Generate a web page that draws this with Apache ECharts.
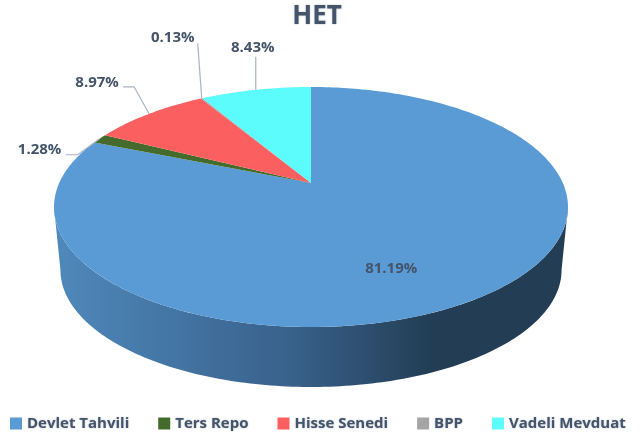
<!DOCTYPE html>
<html><head><meta charset="utf-8">
<style>html,body{margin:0;padding:0;background:#fff}#c{width:643px;height:437px}</style>
<script src="https://cdn.jsdelivr.net/npm/echarts@6/dist/echarts.min.js"></script>
</head><body><div id="c"></div>
<script>
const chartTitle = 'HET';
const categories = ['Devlet Tahvili', 'Ters Repo', 'Hisse Senedi', 'BPP', 'Vadeli Mevduat'];
const shares = [81.19, 1.28, 8.97, 0.13, 8.43];
const colors = ['#5b9bd5', '#456b2c', '#fb5f5f', '#a5a5a5', '#5cfcfc'];

// Perspective view of the pie: apex, rim size and extrusion
const view = {cx: 311, cy: 183, rimX: 251.8, rimY: 115.2, k: 0.2, lowerScale: 0.975, lowerDrop: 63.6};
// Label placement relative to the slice's rim midpoint, with leader line elbows
const labelLayout = [
  {dx: -88, dy: -29, line: null},
  {dx: -60, dy: 11, line: [[-22, 16], [-34, 16]]},
  {dx: -52, dy: -31, line: [[-15, -27], [-26, -27]]},
  {dx: -29, dy: -61, line: [[-4, -55]]},
  {dx: -3, dy: -42, line: [[0, -33]]}
];
const textColor = '#44546a';
const textFont = 'bold 15px "Open Sans"';

function project(angle, lower) {
  const s = Math.sin(angle), c = Math.cos(angle), w = 1 + view.k * c;
  const x = view.rimX * s / w, y = -view.rimY * c / w;
  const m = lower ? view.lowerScale : 1, d = lower ? view.lowerDrop : 0;
  return [view.cx + m * x, view.cy + d + m * y];
}
function rim(a0, a1, lower) {
  const n = Math.max(2, Math.ceil(Math.abs(a1 - a0) / (Math.PI / 180)));
  const pts = [];
  for (let i = 0; i <= n; i++) pts.push(project(a0 + (a1 - a0) * i / n, lower));
  return pts;
}
const total = shares.reduce((a, b) => a + b, 0);
function sliceAngles(i) {
  const before = shares.slice(0, i).reduce((a, b) => a + b, 0);
  return [before / total * 2 * Math.PI, (before + shares[i]) / total * 2 * Math.PI];
}
// front wall spans the rim's widest points on each side
const wallFrom = Math.acos(-view.k), wallTo = 2 * Math.PI - wallFrom;

function renderSlice(i) {
  return function (params, api) {
    const value = api.value(0);
    const [a0, a1] = sliceAngles(i);
    const children = [];
    if (i === 0) {
      const top = rim(wallFrom, wallTo, false);
      const bottom = rim(wallTo, wallFrom, true);
      children.push({
        type: 'polygon', silent: true,
        shape: {points: top.concat(bottom)},
        style: {fill: new echarts.graphic.LinearGradient(0, 0, 1, 0, [
          {offset: 0, color: '#4f89bc'},
          {offset: 0.47, color: '#38608a'},
          {offset: 0.74, color: '#223d54'},
          {offset: 1, color: '#223d54'}
        ])}
      });
    }
    children.push({
      type: 'polygon',
      shape: {points: [[view.cx, view.cy]].concat(rim(a0, a1, false))},
      style: {fill: api.visual('color')}
    });
    const mid = project((a0 + a1) / 2, false);
    const lay = labelLayout[i];
    if (lay.line) {
      children.push({
        type: 'polyline', silent: true, z2: 5,
        shape: {points: [mid].concat(lay.line.map(p => [mid[0] + p[0], mid[1] + p[1]]))},
        style: {stroke: '#a9b4c2', lineWidth: 1.2, fill: 'none'}
      });
    }
    children.push({
      type: 'text', silent: true, z2: 6,
      style: {
        x: mid[0] + lay.dx, y: mid[1] + lay.dy,
        text: value.toFixed(2) + '%',
        fill: textColor, font: textFont,
        align: 'center', verticalAlign: 'middle',
        shadowBlur: 2, shadowColor: 'rgba(68,84,106,0.4)'
      }
    });
    return {type: 'group', children};
  };
}

const chart = echarts.init(document.getElementById('c'), null, {renderer: 'canvas'});
chart.setOption({
  animation: false,
  backgroundColor: '#ffffff',
  color: colors,
  title: {
    text: chartTitle, left: 312, top: -1, textAlign: 'center',
    textStyle: {color: textColor, fontFamily: 'Open Sans', fontWeight: 'bold', fontSize: 26,
      textShadowBlur: 2, textShadowColor: 'rgba(68,84,106,0.4)'}
  },
  legend: {
    left: 10, top: 416, icon: 'rect', itemWidth: 12, itemHeight: 12, itemGap: 29, padding: 0,
    selectedMode: false,
    data: categories,
    textStyle: {color: textColor, fontFamily: 'Open Sans', fontWeight: 'bold', fontSize: 15,
      textShadowBlur: 2, textShadowColor: 'rgba(68,84,106,0.4)'}
  },
  series: categories.map((name, i) => ({
    type: 'custom', name, coordinateSystem: 'none',
    itemStyle: {color: colors[i]},
    data: [[shares[i]]],
    renderItem: renderSlice(i)
  }))
});
</script></body></html>
